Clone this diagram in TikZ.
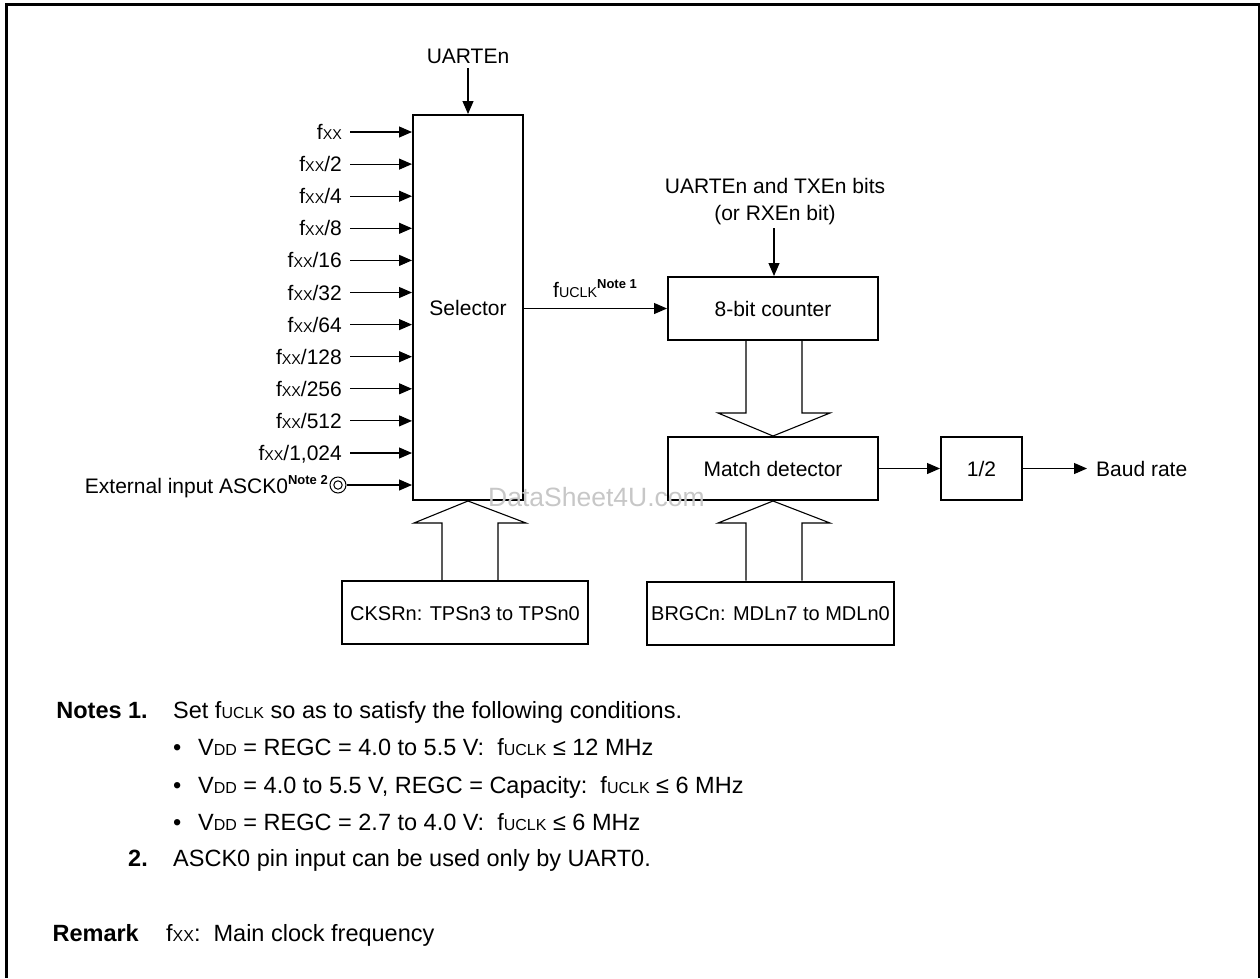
\documentclass[tikz,border=0pt]{standalone}
\usepackage{fontspec}
\setmainfont{Liberation Sans}
\usepackage{graphicx}
\usetikzlibrary{arrows.meta,calc}
\newcommand{\sm}[1]{\scalebox{0.68}{#1}}
\newcommand{\nte}[1]{\raisebox{0.42em}{\fontsize{13}{13}\selectfont\bfseries #1}}
\begin{document}
\begin{tikzpicture}[x=1pt,y=-1pt,
  box/.style={draw, line width=2pt, inner sep=0pt, font=\fontsize{21}{25}\selectfont, text height=15pt, text depth=0pt},
  txt/.style={inner sep=0pt, font=\fontsize{21}{25}\selectfont},
  ntxt/.style={inner sep=0pt, font=\fontsize{23.5}{28}\selectfont, anchor=base west},
  nbold/.style={inner sep=0pt, font=\fontsize{23.5}{28}\selectfont\bfseries, anchor=base east},
  arr/.style={line width=1.1pt, -{Triangle[length=13pt,width=11pt]}},
  hollow/.style={line width=1.1pt, line join=miter}]
\useasboundingbox (0,0) rectangle (1260,978);
% frame
\draw[line width=2.5pt] (6.3,978) -- (6.3,4.5) -- (1258.8,4.5) -- (1258.8,978);

% main boxes
\node[box, minimum width=110pt, minimum height=385pt] (sel) at (468,307.5) {Selector};
\node[box, minimum width=210pt, minimum height=63pt] (cnt) at (773,308.5) {8-bit counter};
\node[box, minimum width=210pt, minimum height=63pt] (match) at (773,468.5) {Match detector};
\node[box, minimum width=81pt, minimum height=63pt] (half) at (981.5,468.5) {1/2};
\node[box, minimum width=246pt, minimum height=63pt, font=\fontsize{20}{24}\selectfont] (cksr) at (465,612.5) {CKSRn: TPSn3 to TPSn0};
\node[box, minimum width=247pt, minimum height=63pt, font=\fontsize{20}{24}\selectfont] (brgc) at (770.5,613) {BRGCn: MDLn7 to MDLn0};

% UARTEn
\node[txt, anchor=base] (uarten) at (468,63) {UARTEn};
\coordinate (uartenS) at (468,68);
\draw[arr] (uartenS) -- (sel.north);

% inputs
\foreach \lab [count=\i from 0] in {{f\sm{XX}}, {f\sm{XX}/2}, {f\sm{XX}/4}, {f\sm{XX}/8}, {f\sm{XX}/16}, {f\sm{XX}/32}, {f\sm{XX}/64}, {f\sm{XX}/128}, {f\sm{XX}/256}, {f\sm{XX}/512}, {f\sm{XX}/1,024}} {
  \coordinate (in\i) at (350,{132+\i*32.1});
  \node[txt, anchor=base east] (lab\i) at ($(in\i)+(-8,7.5)$) {\lab};
  \draw[arr] (in\i) -- (in\i -| sel.west);
}
% external input
\node[circle, draw, line width=1pt, minimum size=16pt, inner sep=0pt] (extc) at (338,485) {};
\draw[line width=1pt] (extc.center) circle (4.2);
\node[txt, anchor=base east] (extl) at (328,493) {External input ASCK0\nte{Note 2}};
\draw[arr] (extc.east) -- (extc.east -| sel.west);

% fUCLK
\node[txt, anchor=base west] (fuclk) at (553,297) {f\sm{UCLK}\nte{Note 1}};
\draw[arr] (sel.east |- cnt.west) -- (cnt.west);

% control bits
\node[txt, anchor=base] (ctl1) at (775,193) {UARTEn and TXEn bits};
\node[txt, anchor=base] (ctl2) at (775,220) {(or RXEn bit)};
\coordinate (ctlS) at (774,228);
\draw[arr] (ctlS) -- (ctlS |- cnt.north);

% hollow arrows
\draw[hollow] ($(cnt.south)+(-27,0)$) -- ($(match.north)+(-27,-23)$) -- ($(match.north)+(-55,-23)$) -- (match.north) -- ($(match.north)+(57,-23)$) -- ($(match.north)+(29,-23)$) -- ($(cnt.south)+(29,0)$);
\draw[hollow] ($(brgc.north -| match.south)+(-27,0)$) -- ($(match.south)+(-27,22)$) -- ($(match.south)+(-55,22)$) -- (match.south) -- ($(match.south)+(57,22)$) -- ($(match.south)+(29,22)$) -- ($(brgc.north -| match.south)+(29,0)$);
\draw[hollow] ($(cksr.north -| sel.south)+(-26,0)$) -- ($(sel.south)+(-26,22)$) -- ($(sel.south)+(-54,22)$) -- (sel.south) -- ($(sel.south)+(58,22)$) -- ($(sel.south)+(30,22)$) -- ($(cksr.north -| sel.south)+(30,0)$);

% output chain
\draw[arr] (match.east) -- (half.west);
\coordinate (outE) at (1087,468.5);
\draw[arr] (half.east) -- (outE);
\node[txt, anchor=base west] (baud) at (1096,476) {Baud rate};

% watermark
\node[inner sep=0pt, anchor=base west, font=\fontsize{26.5}{30}\selectfont, text=black!22] (wm) at (488,506) {DataSheet4U.com};

% notes
\node[nbold] (n1) at (148,718) {Notes 1.};
\node[ntxt] (n1t) at (173,718) {Set f\sm{UCLK} so as to satisfy the following conditions.};
\node[ntxt] (b1) at (173,755) {•};
\node[ntxt] (b1t) at (198,755) {V\sm{DD} = REGC = 4.0 to 5.5 V:\ \ f\sm{UCLK} ≤ 12 MHz};
\node[ntxt] (b2) at (173,793) {•};
\node[ntxt] (b2t) at (198,793) {V\sm{DD} = 4.0 to 5.5 V, REGC = Capacity:\ \ f\sm{UCLK} ≤ 6 MHz};
\node[ntxt] (b3) at (173,830) {•};
\node[ntxt] (b3t) at (198,830) {V\sm{DD} = REGC = 2.7 to 4.0 V:\ \ f\sm{UCLK} ≤ 6 MHz};
\node[nbold] (n2) at (148,866) {2.};
\node[ntxt] (n2t) at (173,866) {ASCK0 pin input can be used only by UART0.};
\node[nbold] (rem) at (139,941) {Remark};
\node[ntxt] (remt) at (166,941) {f\sm{XX}:\ \ Main clock frequency};
\end{tikzpicture}
\end{document}
